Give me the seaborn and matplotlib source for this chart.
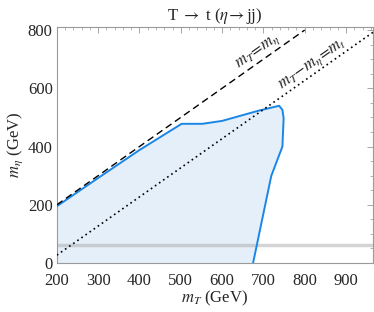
import numpy as np
import pandas as pd
import matplotlib
matplotlib.use("Agg")
import matplotlib.pyplot as plt
import seaborn as sns
from matplotlib.ticker import MultipleLocator

sns.set_theme(style="white")
plt.rcParams['font.family'] = ['Liberation Serif', 'DejaVu Serif']
plt.rcParams['mathtext.fontset'] = 'stix'

# excluded region boundary (m_T, m_eta) in GeV
contour_mT = [200, 300, 400, 502, 552, 600, 688, 738, 746, 749, 746, 719, 675]
contour_meta = [195, 292, 388, 478, 478, 488, 523, 540, 526, 497, 400, 299, 0]

m_top = 173
m_h_half = 62.5
diag_mT = [200, 800]
dotted_mT = [200, 980]

blue = "#1a86e6"
fill = "#e4eff9"

fig = plt.figure(figsize=(3.74, 3.12), dpi=100)
ax = fig.add_axes([0.152, 0.157, 0.845, 0.756])

fx = [200] + contour_mT
fy = [0] + contour_meta
ax.fill(fx, fy, color=fill, lw=0, zorder=1)

df = pd.DataFrame({"mT": contour_mT, "meta": contour_meta})
sns.lineplot(data=df, x="mT", y="meta", sort=False, estimator=None, color=blue,
             lw=1.4, ax=ax, zorder=3)

ax.axhline(m_h_half, color="#aaaaaa", lw=2.5, alpha=0.5, zorder=2)

ax.plot(diag_mT, diag_mT, color="black", ls=(0, (5, 3)), lw=1.0, zorder=4)
ax.plot(dotted_mT, [v - m_top for v in dotted_mT], color="black", ls=(0, (1, 2)), lw=1.2, zorder=4)

ax.text(690, 720, r"$m_T\!=\!m_\eta$", rotation=35, rotation_mode="anchor",
        fontsize=12, ha="center", va="baseline")
ax.text(822, 677, r"$m_T\!-\!m_\eta\!=\!m_t$", rotation=35, rotation_mode="anchor",
        fontsize=12, ha="center", va="baseline")

ax.set_xlim(200, 965)
ax.set_ylim(0, 810)
ax.xaxis.set_major_locator(MultipleLocator(100))
ax.xaxis.set_minor_locator(MultipleLocator(20))
ax.yaxis.set_major_locator(MultipleLocator(200))
ax.yaxis.set_minor_locator(MultipleLocator(50))
ax.tick_params(which="both", direction="in", top=True, right=True, color="#999999",
               labelsize=12)
ax.tick_params(axis="x", pad=7)
ax.tick_params(axis="y", pad=3)
ax.tick_params(which="major", length=4, width=0.6)
ax.tick_params(which="minor", length=2, width=0.5)
for s in ax.spines.values():
    s.set_color("#999999")
    s.set_linewidth(0.8)

ax.set_xlabel(r"$m_T$ (GeV)", fontsize=12, labelpad=0)
ax.set_ylabel(r"$m_\eta$ (GeV)", fontsize=12, labelpad=2)
ax.set_title(r"T $\rightarrow$ t ($\eta\!\rightarrow$jj)", fontsize=12, pad=5)

fig.savefig("out.png", dpi=100)
